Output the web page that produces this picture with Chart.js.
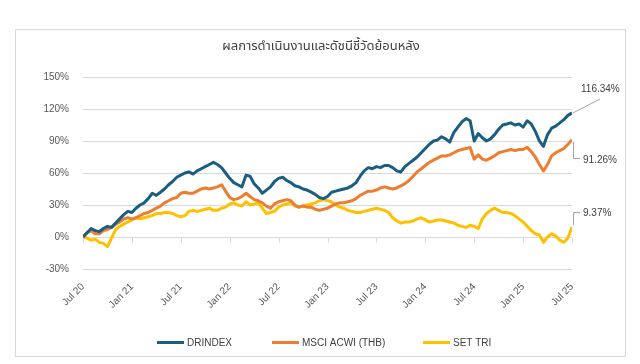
<!DOCTYPE html>
<html><head><meta charset="utf-8">
<script src="https://cdn.jsdelivr.net/npm/chart.js@4.4.1/dist/chart.umd.min.js"></script>
<style>html,body{margin:0;padding:0;background:#fff;}#wrap{width:640px;height:364px;position:relative;}</style>
</head><body><div id="wrap"><canvas id="c" width="640" height="364"></canvas></div>
<script>
const titleText = 'ผลการดำเนินงานและดัชนีชี้วัดย้อนหลัง';
const tickLabels = ['Jul 20','Jan 21','Jul 21','Jan 22','Jul 22','Jan 23','Jul 23','Jan 24','Jul 24','Jan 25','Jul 25'];
const seriesNames = ['DRINDEX','MSCI ACWI (THB)','SET TRI'];
const seriesColors = ['#1b5e82','#ed7d31','#ffc000'];
const endLabels = ['116.34%','91.26%','9.37%'];
// half-month steps from Jul 2020 to Jul 2025
const drindex = [0,4,8,6,5,8,10,9,13,17,21,24,23,27,30,32,36,41,39,42,45,49,52,56,58,60,61,59,62,64,66,68,70,68,65,60,55,51,49,47,58,57,50,46,41,44,47,52,55,56,53,51,48,47,45,44,42,40,37,36,38,42,43,44,45,46,48,51,57,62,65,64,66,65,67,67,65,62,61,66,69,72,75,79,83,87,90,91,94,92,89,98,103,108,111,109,90,97,93,90,92,96,101,105,106,107,105,106,103,109,106,99,90,85,96,102,104,107,110,114,116.34];
const msci = [0,4,6,3,3,6,7,9,12,14,17,18,17,18,20,22,23,25,27,29,32,34,36,37,41,42,41,41,43,45,46,45,46,47,49,43,37,35,36,38,41,38,35,34,32,29,27,31,33,34,35,34,30,28,29,28,28,26,25,26,27,29,31,32,32,33,34,36,39,41,43,43,44,46,47,46,45,46,48,50,53,57,61,64,67,70,72,74,76,76,77,79,81,82,83,84,73,77,73,72,74,76,79,80,81,82,81,82,82,84,80,75,68,62,68,76,79,81,83,87,91.26];
const settri = [0,-1,-3,-2,-5,-6,-9,-1,7,10,12,14,16,18,17,18,19,20,22,22,23,23,22,20,19,20,24,25,24,25,26,27,25,25,27,28,31,32,30,29,33,30,31,32,27,22,23,24,28,30,31,32,29,28,29,30,31,32,34,35,34,33,30,28,27,25,24,23,23,24,25,26,27,26,25,23,18,15,13,14,14,15,17,18,16,14,15,16,16,15,14,13,11,10,9,11,10,8,17,22,25,27,25,23,23,22,20,17,14,10,6,3,2,-5,0,3,1,-3,-5,-1,9.37];
const allSeries = [drindex, msci, settri];
const toPts = arr => arr.map((v,i)=>({x:i*0.5,y:v}));

const FONT = '"Liberation Sans", Arial, sans-serif';
const overlay = {
  id:'overlay',
  beforeDraw(chart){
    const ctx=chart.ctx;
    ctx.save();
    ctx.strokeStyle='#d9d9d9';ctx.lineWidth=1;
    ctx.strokeRect(15.5,29.5,610,327);
    ctx.fillStyle='#404040';
    ctx.font='13px Tahoma, "Noto Sans Thai", "DejaVu Sans", sans-serif';
    ctx.textAlign='center';ctx.textBaseline='middle';
    ctx.fillText(titleText,321,47);
    ctx.restore();
  },
  beforeDatasetsDraw(chart){
    const ctx=chart.ctx, xs=chart.scales.x, ys=chart.scales.y;
    const y0=Math.round(ys.getPixelForValue(0))+0.5;
    ctx.save();ctx.strokeStyle='#d9d9d9';ctx.lineWidth=1;
    ctx.beginPath();
    xs.ticks.forEach(t=>{const px=Math.round(xs.getPixelForValue(t.value))+0.5;ctx.moveTo(px,y0);ctx.lineTo(px,y0+5);});
    ctx.stroke();ctx.restore();
  },
  afterDraw(chart){
    const ctx=chart.ctx;
    ctx.save();
    const ends = chart.data.datasets.map((d,i)=>chart.getDatasetMeta(i).data[d.data.length-1]);
    ctx.strokeStyle='#a6a6a6';ctx.lineWidth=1;
    ctx.font='10px '+FONT;ctx.fillStyle='#404040';ctx.textBaseline='middle';ctx.textAlign='left';
    const e0=ends[0];
    ctx.beginPath();ctx.moveTo(e0.x+1,e0.y);ctx.lineTo(600,99);ctx.stroke();
    ctx.fillText(endLabels[0],581,89);
    const e1=ends[1];
    ctx.beginPath();ctx.moveTo(e1.x+1.5,e1.y+2);ctx.lineTo(e1.x+1.5,158.5);ctx.lineTo(580,158.5);ctx.stroke();
    ctx.fillText(endLabels[1],583,160);
    const e2=ends[2];
    ctx.beginPath();ctx.moveTo(e2.x+1.5,e2.y-2);ctx.lineTo(e2.x+1.5,212.5);ctx.lineTo(580,212.5);ctx.stroke();
    ctx.fillText(endLabels[2],583,213);
    const lx=[157,272,423];
    seriesNames.forEach((n,i)=>{
      ctx.strokeStyle=seriesColors[i];ctx.lineWidth=3;
      ctx.beginPath();ctx.moveTo(lx[i],342.5);ctx.lineTo(lx[i]+27,342.5);ctx.stroke();
      ctx.fillStyle='#404040';ctx.fillText(n,lx[i]+30,343);
    });
    ctx.restore();
  }
};

new Chart(document.getElementById('c'),{
  type:'line',
  data:{datasets: allSeries.map((s,i)=>({label:seriesNames[i],data:toPts(s),borderColor:seriesColors[i],backgroundColor:seriesColors[i],borderWidth:3,pointRadius:0,tension:0,borderJoinStyle:'round'}))},
  options:{
    responsive:false,animation:false,
    layout:{padding:{left:0,right:68,top:77,bottom:50}},
    plugins:{legend:{display:false},title:{display:false},tooltip:{enabled:false}},
    scales:{
      x:{type:'linear',min:0,max:60,
        afterFit:s=>{s.height=45;},
        afterBuildTicks:s=>{s.ticks=tickLabels.map((l,i)=>({value:i*6}));},
        grid:{display:false,drawTicks:false},border:{display:false},
        ticks:{maxRotation:45,minRotation:45,padding:12,color:'#595959',font:{family:FONT,size:10},autoSkip:false,
          callback:(v,i)=>tickLabels[i]}},
      y:{min:-30,max:150,
        afterFit:s=>{s.width=83;},
        ticks:{stepSize:30,padding:14,color:'#595959',font:{family:FONT,size:10},callback:v=>v+'%'},
        grid:{color:'#d9d9d9',drawTicks:false,lineWidth:1},border:{display:false}}
    }
  },
  plugins:[overlay]
});
</script></body></html>
